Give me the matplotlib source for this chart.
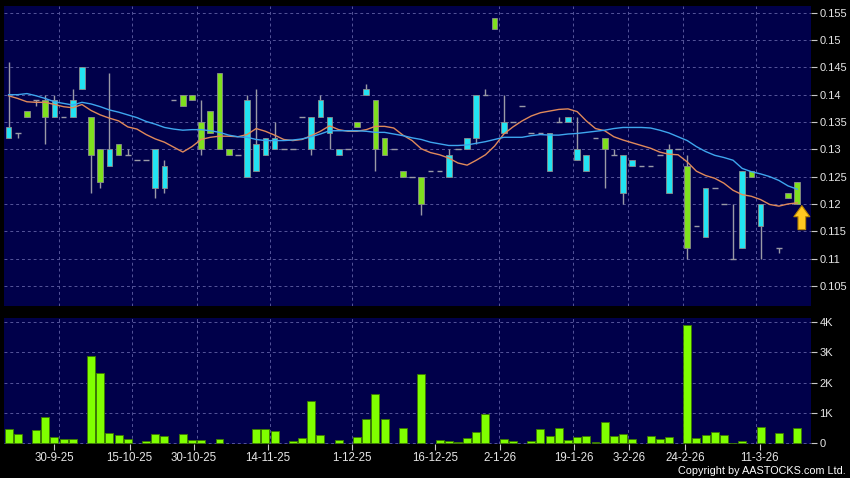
import numpy as np
import matplotlib.pyplot as plt

plt.rcParams['font.family'] = ['Liberation Sans', 'DejaVu Sans']

# daily candles, one per slot (nan = no candle drawn)
open_ = [0.132, 0.133, 0.137, 0.139, 0.139, 0.136, 0.136, 0.136, 0.141, 0.136,
         0.130, 0.127, 0.131, 0.129, 0.128, 0.128, 0.123, 0.123, 0.139, 0.140,
         0.140, 0.135, 0.137, 0.144, 0.130, 0.129, 0.125, 0.126, 0.129, 0.130,
         0.130, 0.130, 0.136, 0.130, 0.136, 0.133, 0.129, 0.130, 0.135, 0.140,
         0.139, 0.132, 0.130, 0.126, 0.125, 0.125, 0.126, 0.126, 0.125, 0.130,
         0.130, 0.132, 0.140, 0.154, 0.133, 0.135, 0.138, 0.133, 0.133, 0.126,
         0.135, 0.135, 0.128, 0.126, 0.132, 0.132, 0.129, 0.122, 0.127, 0.127,
         0.127, 0.129, 0.122, 0.130, 0.127, 0.116, 0.114, 0.123, 0.120, 0.110,
         0.112, 0.126, 0.116, np.nan, 0.112, 0.122, 0.124]
high = [0.146, 0.133, 0.137, 0.139, 0.140, 0.140, 0.136, 0.141, 0.145, 0.136,
        0.130, 0.144, 0.131, 0.130, 0.128, 0.128, 0.130, 0.128, 0.139, 0.140,
        0.140, 0.139, 0.137, 0.144, 0.130, 0.129, 0.140, 0.141, 0.132, 0.135,
        0.130, 0.130, 0.136, 0.136, 0.140, 0.136, 0.130, 0.130, 0.135, 0.142,
        0.139, 0.132, 0.130, 0.126, 0.125, 0.125, 0.126, 0.126, 0.130, 0.130,
        0.132, 0.140, 0.141, 0.154, 0.140, 0.135, 0.138, 0.133, 0.133, 0.133,
        0.136, 0.136, 0.136, 0.129, 0.132, 0.132, 0.130, 0.129, 0.128, 0.127,
        0.127, 0.129, 0.131, 0.130, 0.129, 0.116, 0.123, 0.123, 0.120, 0.120,
        0.126, 0.126, 0.120, np.nan, 0.112, 0.122, 0.124]
low = [0.132, 0.132, 0.136, 0.138, 0.131, 0.136, 0.136, 0.136, 0.141, 0.122,
       0.123, 0.127, 0.129, 0.129, 0.128, 0.128, 0.121, 0.122, 0.139, 0.138,
       0.139, 0.129, 0.133, 0.130, 0.129, 0.129, 0.125, 0.126, 0.129, 0.130,
       0.130, 0.130, 0.136, 0.129, 0.136, 0.130, 0.129, 0.130, 0.134, 0.140,
       0.126, 0.129, 0.130, 0.125, 0.125, 0.118, 0.126, 0.126, 0.125, 0.130,
       0.130, 0.131, 0.140, 0.152, 0.133, 0.135, 0.138, 0.133, 0.133, 0.126,
       0.135, 0.135, 0.128, 0.126, 0.132, 0.123, 0.129, 0.120, 0.127, 0.127,
       0.127, 0.129, 0.122, 0.130, 0.110, 0.116, 0.114, 0.123, 0.120, 0.110,
       0.112, 0.125, 0.110, np.nan, 0.111, 0.121, 0.120]
close = [0.134, 0.133, 0.136, 0.139, 0.136, 0.139, 0.136, 0.139, 0.145, 0.129,
         0.124, 0.130, 0.129, 0.129, 0.128, 0.128, 0.130, 0.127, 0.139, 0.138,
         0.139, 0.130, 0.133, 0.130, 0.129, 0.129, 0.139, 0.131, 0.132, 0.132,
         0.130, 0.130, 0.136, 0.136, 0.139, 0.136, 0.130, 0.130, 0.134, 0.141,
         0.130, 0.129, 0.130, 0.125, 0.125, 0.120, 0.126, 0.126, 0.129, 0.130,
         0.132, 0.140, 0.140, 0.152, 0.135, 0.135, 0.138, 0.133, 0.133, 0.133,
         0.135, 0.136, 0.130, 0.129, 0.132, 0.130, 0.129, 0.129, 0.128, 0.127,
         0.127, 0.129, 0.130, 0.130, 0.112, 0.116, 0.123, 0.123, 0.120, 0.110,
         0.126, 0.125, 0.120, np.nan, 0.112, 0.121, 0.120]

# moving averages as drawn on the chart
ma_short = [0.1398, 0.1393, 0.1387, 0.1386, 0.1386, 0.1382, 0.1378, 0.1376, 0.1382, 0.1371,
            0.1363, 0.1357, 0.1352, 0.1341, 0.1337, 0.1327, 0.1319, 0.1313, 0.1304, 0.1295,
            0.1305, 0.1318, 0.1322, 0.1324, 0.1324, 0.1323, 0.1327, 0.1338, 0.1333, 0.1326,
            0.1318, 0.1316, 0.1318, 0.1325, 0.1333, 0.1343, 0.1336, 0.1333, 0.1333, 0.1336,
            0.1342, 0.1342, 0.1339, 0.1326, 0.1316, 0.1301, 0.1294, 0.1290, 0.1284, 0.1275,
            0.1271, 0.1280, 0.1290, 0.1306, 0.1328, 0.1341, 0.1352, 0.1361, 0.1367, 0.1370,
            0.1373, 0.1374, 0.1369, 0.1352, 0.1338, 0.1334, 0.1323, 0.1317, 0.1312, 0.1307,
            0.1302, 0.1295, 0.1291, 0.1290, 0.1277, 0.1260, 0.1252, 0.1247, 0.1238, 0.1225,
            0.1217, 0.1214, 0.1208, 0.1199, 0.1196, 0.1200, 0.1202]
ma_long = [0.1400, 0.1400, 0.1402, 0.1398, 0.1393, 0.1387, 0.1384, 0.1381, 0.1386, 0.1383,
           0.1378, 0.1372, 0.1368, 0.1363, 0.1358, 0.1351, 0.1346, 0.1340, 0.1337, 0.1335,
           0.1336, 0.1336, 0.1334, 0.1331, 0.1326, 0.1323, 0.1322, 0.1318, 0.1316, 0.1316,
           0.1316, 0.1317, 0.1319, 0.1323, 0.1328, 0.1334, 0.1334, 0.1334, 0.1334, 0.1333,
           0.1331, 0.1331, 0.1328, 0.1325, 0.1321, 0.1318, 0.1313, 0.1310, 0.1307, 0.1307,
           0.1308, 0.1311, 0.1314, 0.1318, 0.1322, 0.1322, 0.1322, 0.1325, 0.1327, 0.1326,
           0.1326, 0.1328, 0.1329, 0.1331, 0.1333, 0.1335, 0.1338, 0.1340, 0.1340, 0.1340,
           0.1339, 0.1335, 0.1330, 0.1323, 0.1316, 0.1305, 0.1296, 0.1289, 0.1285, 0.1280,
           0.1265, 0.1259, 0.1255, 0.1250, 0.1243, 0.1233, 0.1227]

# volume in thousands of shares
volume_k = [0.47, 0.31, 0, 0.44, 0.86, 0.22, 0.14, 0.14, 0, 2.88,
            2.30, 0.33, 0.28, 0.16, 0, 0.08, 0.31, 0.24, 0, 0.30,
            0.10, 0.10, 0, 0.15, 0, 0, 0, 0.46, 0.48, 0.41,
            0, 0.09, 0.17, 1.39, 0.26, 0, 0.11, 0, 0.21, 0.80,
            1.62, 0.80, 0, 0.49, 0, 2.29, 0, 0.11, 0.07, 0.04,
            0.18, 0.36, 0.97, 0, 0.13, 0.08, 0, 0.08, 0.46, 0.24,
            0.49, 0.11, 0.21, 0.24, 0.04, 0.70, 0.24, 0.31, 0.13, 0,
            0.24, 0.14, 0.22, 0, 3.88, 0.18, 0.27, 0.37, 0.27, 0.01,
            0.09, 0, 0.53, 0, 0.33, 0, 0.49]

date_labels = ['30-9-25', '15-10-25', '30-10-25', '14-11-25', '1-12-25', '16-12-25',
               '2-1-26', '19-1-26', '3-2-26', '24-2-26', '11-3-26']
label_pos = [5.0, 13.2, 20.2, 28.3, 37.4, 46.5, 53.6, 61.7, 67.7, 73.8, 81.9]
grid_pos = [5.5, 13.5, 20.5, 28.5, 37.5, 46.5, 53.5, 61.5, 67.5, 73.5, 81.5]
price_ticks = [0.105, 0.11, 0.115, 0.12, 0.125, 0.13, 0.135, 0.14, 0.145, 0.15, 0.155]
vol_ticks = [0, 1, 2, 3, 4]

navy = '#00004a'
grid_c = '#55559a'
txt_c = '#e6e6e6'
up_c = '#22e3f2'
down_c = '#7fe01e'
wick_c = '#9a9aa6'

o = np.array(open_, dtype=float)
h = np.array(high, dtype=float)
l = np.array(low, dtype=float)
c = np.array(close, dtype=float)
x = np.arange(len(o))

fig = plt.figure(figsize=(8.5, 4.78), dpi=100, facecolor='black')
ax = fig.add_axes([4 / 850, 1 - 306 / 478, 807 / 850, 300 / 478])
axv = fig.add_axes([4 / 850, 1 - 444 / 478, 807 / 850, 126 / 478])

for a in (ax, axv):
    a.set_facecolor(navy)
    for s in a.spines.values():
        s.set_visible(False)
    a.set_xlim(-0.5, 87.5)
    a.set_xticks(label_pos)
    a.set_xticks(grid_pos, minor=True)
    a.grid(True, axis='y', color=grid_c, linestyle=(0, (3, 3)), linewidth=0.7)
    a.grid(True, axis='x', which='minor', color=grid_c, linestyle=(0, (3, 3)), linewidth=0.7)
    a.set_axisbelow(True)
    a.yaxis.tick_right()
    a.tick_params(axis='y', colors='#c8c8c8', labelcolor=txt_c, labelsize=8,
                  length=4, width=0.8, pad=2)
    a.tick_params(axis='x', which='minor', length=0)

# ---- price panel ----
ok = ~np.isnan(o)
wk = ok & (h > l)
ax.vlines(x[wk], l[wk], h[wk], color=wick_c, linewidth=1, zorder=2)

bw = 0.62
up = ok & (c > o)
dn = ok & (c < o)
flat = ok & (c == o)
ax.bar(x[up], c[up] - o[up], bottom=o[up], width=bw, color=up_c,
       edgecolor='#8c8c8c', linewidth=0.6, zorder=3)
ax.bar(x[dn], o[dn] - c[dn], bottom=c[dn], width=bw, color=down_c,
       edgecolor='#8c8c8c', linewidth=0.6, zorder=3)
ax.hlines(c[flat], x[flat] - bw / 2, x[flat] + bw / 2, color=wick_c,
          linewidth=1, zorder=3)

ax.plot(x, ma_short, color='#e0895a', linewidth=1, zorder=4)
ax.plot(x, ma_long, color='#3ea6ee', linewidth=1, zorder=4)

# arrow under the last candle
ax.annotate('', xy=(86.5, 0.1197), xytext=(86.5, 0.1153),
            arrowprops=dict(arrowstyle='simple,head_width=1.15,head_length=0.8,tail_width=0.55',
                            fc='#ffc820', ec='#b88400', lw=0.8, mutation_scale=10,
                            shrinkA=0, shrinkB=0), zorder=5)

ax.set_ylim(0.10132, 0.15623)
ax.set_yticks(price_ticks)
ax.set_yticklabels([f'{t:g}' for t in price_ticks])
ax.tick_params(axis='x', length=0, labelbottom=False)

# ---- volume panel ----
v = np.array(volume_k)
has = v > 0
axv.bar(x[has], v[has], width=0.87, color='#80ff00', edgecolor='#3c7a00',
        linewidth=0.6, zorder=3)
axv.set_ylim(-0.02, 4.12)
axv.set_yticks(vol_ticks)
axv.set_yticklabels(['0' if t == 0 else f'{t}K' for t in vol_ticks])
axv.set_xticklabels(date_labels)
axv.tick_params(axis='x', colors='#c8c8c8', labelcolor=txt_c, labelsize=8.3,
                length=4, width=0.8, pad=2)

fig.text(0.995, 0.004, 'Copyright by AASTOCKS.com Ltd.', ha='right', va='bottom',
         color='white', fontsize=7.8)

fig.savefig('out.png', dpi=100, facecolor='black')
